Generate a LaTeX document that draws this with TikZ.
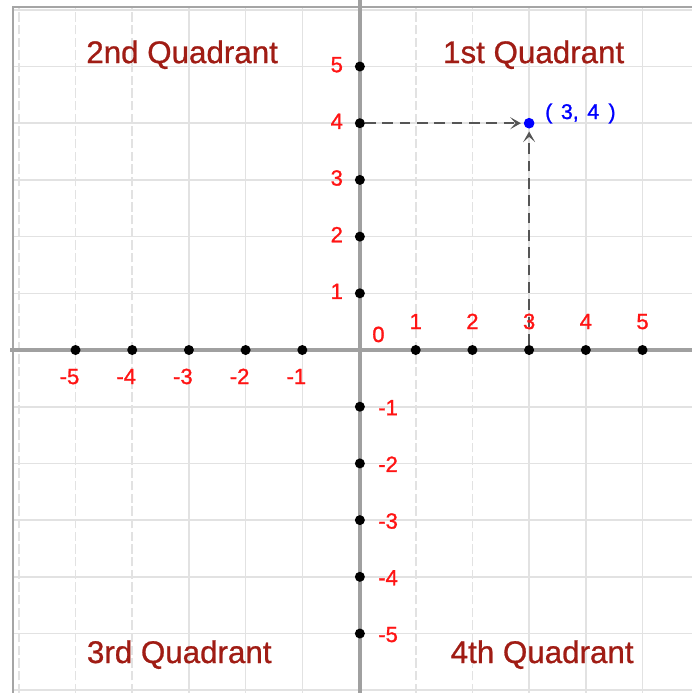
\documentclass[tikz,border=0pt]{standalone}
\usepackage{fontspec}
\setmainfont{Liberation Sans}
\newfontfamily\numfont[FakeBold=1.2]{Liberation Sans}
\newfontfamily\quadfont[FakeBold=0.8]{Liberation Sans}
\usetikzlibrary{arrows.meta}
\definecolor{gridc}{RGB}{226,226,226}
\definecolor{axisc}{RGB}{160,160,160}
\definecolor{framec}{RGB}{165,165,165}
\definecolor{quadc}{RGB}{160,28,20}
\definecolor{numc}{RGB}{255,20,20}
\definecolor{ptc}{RGB}{0,0,255}
\definecolor{arrc}{RGB}{85,85,85}
\begin{document}
\begin{tikzpicture}[x=42.525pt,y=42.525pt,
  gridline/.style={draw=gridc,line width=1.2pt},
  gridd/.style={gridline,dash pattern=on 7pt off 2.5pt},
  axisline/.style={draw=axisc,line width=2.6pt},
  tickdot/.style={circle,fill=black,inner sep=0pt,minimum size=7.5pt},
  num/.style={text=numc,font=\numfont\fontsize{16.5}{18}\selectfont,inner sep=0pt},
  quad/.style={text=quadc,font=\quadfont\fontsize{23.5}{26}\selectfont,inner sep=0pt,anchor=base},
  ptdot/.style={circle,fill=ptc,inner sep=0pt,minimum size=8pt},
  ptlabel/.style={text=ptc,font=\numfont\fontsize{16}{18}\selectfont,inner sep=0pt,anchor=base west},
  guide/.style={draw=arrc,line width=1.3pt,dash pattern=on 8pt off 5pt,
     -{Stealth[length=8pt,width=9pt,inset=4pt]}}
]
\fill[white] (-6.332,-6.049) rectangle (5.873,6.173);
\useasboundingbox (-6.332,-6.049) rectangle (5.873,6.173);
% grid
\foreach \j in {-6,...,-1,1,2,...,6} \draw[gridline] (-6.102,\j) -- (5.873,\j);
\foreach \i in {-3,-2,-1,3,4,5} \draw[gridline] (\i,-6.049) -- (\i,6.049);
\foreach \i in {-6,-5,-4,1,2} \draw[gridd] (\i,-6.049) -- (\i,6.049);
% frame
\draw[framec,line width=1.5pt] (-6.102,-6.049) -- (-6.102,6.049) -- (5.873,6.049);
% axes
\draw[axisline] (-6.155,0) -- (5.873,0);
\draw[axisline] (0.015,-6.049) -- (0.015,6.173);
% ticks
\foreach \i in {-5,...,-1,1,2,...,5} \node[tickdot] (xt\i) at (\i,0) {};
\foreach \j in {-5,...,-1,1,2,...,5} \node[tickdot] (yt\j) at (0.015,\j) {};
% point
\node[ptdot] (P) at (3,4) {};
% guide arrows
\draw[guide,shorten >=2pt] (yt4) -- (P);
\draw[guide,shorten >=2pt] (xt3) -- (P);
% labels
\foreach \i in {1,...,5} \node[num,anchor=base] (xl\i) at (\i,0.37) {\i};
\foreach \i in {-5,...,-1} \node[num,anchor=base] (xl\i) at (\i-0.106,-0.6) {\i};
\foreach \j in {1,...,5} \node[num,anchor=base east] (yl\j) at (-0.28,\j-0.1) {\j};
\foreach \j in {-5,...,-1} \node[num,anchor=base west] (yl\j) at (0.335,\j-0.15) {\j};
\node[num,anchor=base west] (zero) at (0.23,0.141) {0};
\node[ptlabel] (PL) at (3.28,4.074) {( \hspace{2pt}3, \hspace{2pt}4 \hspace{2.5pt})};
% quadrant labels
\node[quad] (q2) at (-3.12,5.06) {2nd Quadrant};
\node[quad] (q1) at (3.08,5.06) {1st Quadrant};
\node[quad] (q3) at (-3.17,-5.52) {3rd Quadrant};
\node[quad] (q4) at (3.23,-5.52) {4th Quadrant};
\end{tikzpicture}
\end{document}
